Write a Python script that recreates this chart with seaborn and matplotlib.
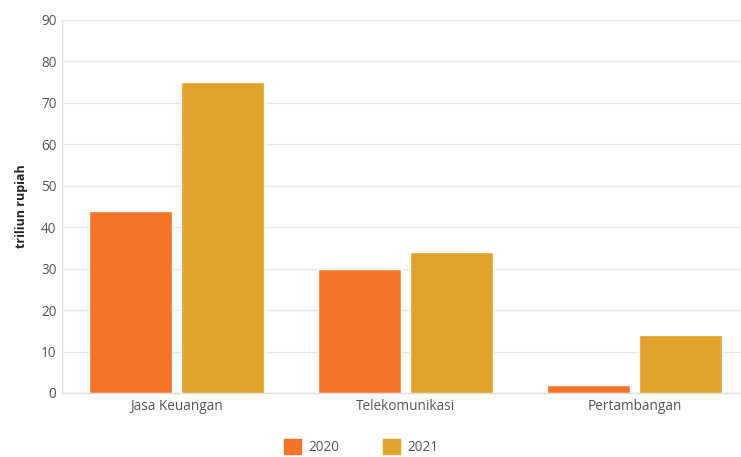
import matplotlib
matplotlib.use("Agg")
import matplotlib.pyplot as plt
import seaborn as sns
import pandas as pd
from matplotlib.patches import Patch

categories = ["Jasa Keuangan", "Telekomunikasi", "Pertambangan"]
years = ["2020", "2021"]
values_2020 = [44, 30, 2]
values_2021 = [75, 34, 14]
y_ticks = [0, 10, 20, 30, 40, 50, 60, 70, 80, 90]
y_label = "triliun rupiah"
colors = ["#F37327", "#E1A32A"]

df = pd.DataFrame({
    "kategori": categories * 2,
    "tahun": [years[0]] * 3 + [years[1]] * 3,
    "nilai": values_2020 + values_2021,
})

sns.set_theme(style="white")
plt.rcParams["font.family"] = ["Open Sans", "DejaVu Sans"]

fig = plt.figure(figsize=(7.41, 4.57), dpi=100)
ax = fig.add_axes([62 / 741, 64 / 457, 679 / 741, 373 / 457])

sns.barplot(data=df, x="kategori", y="nilai", hue="tahun", order=categories,
            hue_order=years, palette=colors, width=0.8, gap=0.1,
            saturation=1, ax=ax, legend=False, zorder=3)

ax.set_xlim(-0.5, 2.465)
ax.set_ylim(0, 90)
ax.set_yticks(y_ticks)
ax.set_yticklabels([str(t) for t in y_ticks])
ax.yaxis.grid(True, color="#e6e6e6", linewidth=1, zorder=0)
ax.set_axisbelow(True)
for s in ["top", "right"]:
    ax.spines[s].set_visible(False)
for s in ["left", "bottom"]:
    ax.spines[s].set_color("#e0e0e0")
    ax.spines[s].set_linewidth(1)
ax.tick_params(axis="both", length=0, labelsize=9.8, labelcolor="#555555", pad=4)
ax.set_xlabel("")
ax.set_ylabel(y_label, fontsize=9, fontweight="bold", color="#222222", labelpad=9)

handles = [Patch(facecolor=c, edgecolor=c, label=y) for c, y in zip(colors, years)]
fig.legend(handles=handles, loc="center", bbox_to_anchor=(361 / 741, 1 - 447 / 457),
           ncol=2, frameon=False, fontsize=9.8, labelcolor="#555555",
           handlelength=1.3, handleheight=1.3, columnspacing=3.2, handletextpad=0.5)

fig.savefig("out.png", dpi=100)
